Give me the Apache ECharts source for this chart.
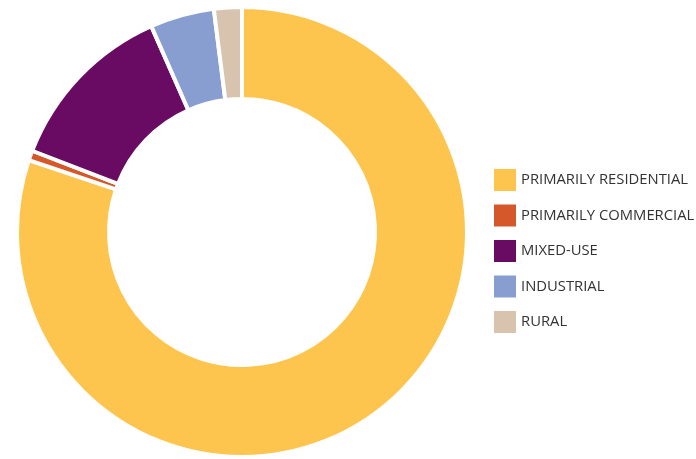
<!DOCTYPE html>
<html><head><meta charset="utf-8">
<script src="https://cdn.jsdelivr.net/npm/echarts@6/dist/echarts.min.js"></script>
<style>html,body{margin:0;padding:0;background:#fff}#c{width:696px;height:459px}</style>
</head><body><div id="c"></div>
<script>
var categories = ['PRIMARILY RESIDENTIAL','PRIMARILY COMMERCIAL','MIXED-USE','INDUSTRIAL','RURAL'];
var values = [80.1, 0.7, 12.5, 4.6, 2.0];
var colors = ['#FEC54E','#D4582A','#6A0B63','#899ED0','#D8C3AF'];
var chart = echarts.init(document.getElementById('c'));
chart.setOption({
  animation:false,
  color: colors,
  legend:{
    orient:'vertical', left:494, top:169, padding:0,
    itemWidth:22, itemHeight:22, itemGap:13.5,
    icon:'rect',
    itemStyle:{borderWidth:0},
    textStyle:{fontFamily:'Open Sans', fontSize:14.8, color:'#333', padding:[0,0,0,0]},
    data: categories
  },
  series:[{
    type:'pie', center:[242,232], radius:[133,225],
    startAngle:90, clockwise:true,
    label:{show:false}, labelLine:{show:false},
    emphasis:{disabled:true},
    itemStyle:{borderColor:'#fff', borderWidth:4},
    data: categories.map(function(n,i){return {name:n, value:values[i]};})
  }]
});
</script></body></html>
